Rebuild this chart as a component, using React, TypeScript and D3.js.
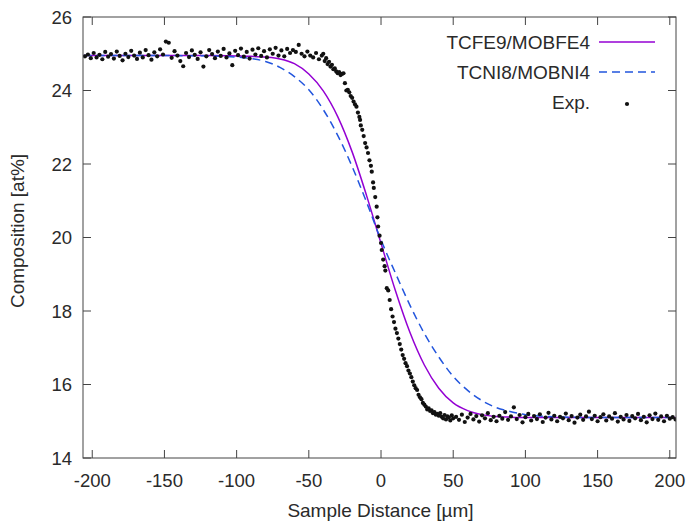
import React from "react";
import * as d3 from "d3";

const xTicks = [-200, -150, -100, -50, 0, 50, 100, 150, 200];
const yTicks = [14, 16, 18, 20, 22, 24, 26];

const seriesNames = ["TCFE9/MOBFE4", "TCNI8/MOBNI4", "Exp."];

// TCFE9/MOBFE4 (solid)
const tcfe9: [number, number][] = [
  [-206, 24.95], [-150, 24.95], [-120, 24.95], [-100, 24.94], [-90, 24.93], [-80, 24.91],
  [-70, 24.86], [-60, 24.73], [-50, 24.45], [-40, 23.99], [-30, 23.29], [-20, 22.33],
  [-10, 21.14], [0, 19.84], [10, 18.55], [20, 17.42], [30, 16.53], [40, 15.9], [50, 15.5],
  [60, 15.29], [70, 15.18], [80, 15.13], [90, 15.11], [100, 15.1], [150, 15.1], [204, 15.1],
];

// TCNI8/MOBNI4 (dashed)
const tcni8: [number, number][] = [
  [-206, 24.95], [-150, 24.95], [-120, 24.94], [-100, 24.91], [-90, 24.87], [-80, 24.79],
  [-70, 24.63], [-60, 24.38], [-50, 24.02], [-40, 23.48], [-30, 22.78], [-20, 21.93],
  [-10, 20.96], [0, 19.93], [10, 19.03], [20, 18.16], [30, 17.39], [40, 16.75], [50, 16.22],
  [60, 15.84], [70, 15.56], [80, 15.37], [90, 15.26], [100, 15.18], [110, 15.14], [120, 15.12],
  [150, 15.1], [204, 15.1],
];

// Experimental points
const expData: [number, number][] = [
  [-205, 24.93], [-203, 24.98], [-201, 24.88], [-199, 25.02], [-197, 24.9], [-195, 24.97],
  [-193, 24.85], [-191, 25.05], [-189, 24.92], [-187, 24.99], [-185, 24.87], [-183, 25.06],
  [-181, 24.94], [-179, 24.82], [-177, 25.0], [-175, 24.91], [-173, 25.08], [-171, 24.95],
  [-169, 24.86], [-167, 25.03], [-165, 24.9], [-163, 25.1], [-161, 24.96], [-159, 24.84],
  [-157, 25.04], [-155, 24.93], [-153, 25.12], [-151, 24.98], [-149, 25.33], [-147, 25.3],
  [-145, 24.89], [-143, 25.07], [-141, 24.95], [-139, 24.8], [-137, 24.66], [-135, 25.02],
  [-133, 24.91], [-131, 25.09], [-129, 24.97], [-127, 24.86], [-125, 25.04], [-123, 24.65],
  [-121, 24.93], [-119, 25.1], [-117, 24.99], [-115, 24.88], [-113, 25.06], [-111, 24.94],
  [-109, 25.13], [-107, 24.9], [-105, 25.01], [-103, 24.69], [-101, 25.08], [-99, 24.96],
  [-97, 25.14], [-95, 24.92], [-93, 25.05], [-91, 24.87], [-89, 25.11], [-87, 24.98],
  [-85, 25.15], [-83, 24.94], [-81, 25.07], [-79, 24.9], [-77, 25.12], [-75, 25.0],
  [-73, 25.16], [-71, 24.95], [-69, 25.09], [-67, 24.93], [-65, 25.13], [-63, 25.02],
  [-61, 25.1], [-59, 25.05], [-57, 25.24], [-55, 25.0], [-53, 24.93], [-51, 25.06],
  [-49, 24.95], [-47, 24.9], [-45, 25.02], [-43, 24.85], [-41, 24.95], [-40, 25.0],
  [-39, 24.8], [-38, 24.88], [-37, 24.72], [-36, 24.78], [-35, 24.65], [-34, 24.7],
  [-33, 24.58], [-32, 24.6], [-31, 24.52], [-30, 24.47], [-29, 24.5], [-28, 24.42],
  [-27, 24.45], [-26, 24.47], [-25, 24.2], [-24, 24.0], [-23, 24.02], [-22, 23.95],
  [-21, 23.85], [-20, 23.8], [-19, 23.7], [-18, 23.62], [-17, 23.56], [-16, 23.4],
  [-15, 23.28], [-14.5, 23.2], [-14, 23.05], [-13, 22.93], [-12, 22.76], [-11, 22.57],
  [-10, 22.45], [-9, 22.3], [-8, 22.1], [-7, 21.95], [-6.4, 21.79], [-5.5, 21.5],
  [-5, 21.35], [-4, 21.1], [-3, 20.84], [-2.5, 20.55], [-2, 20.3], [-1, 20.05],
  [0, 19.85], [0.5, 19.66], [1.5, 19.4], [2.5, 19.22], [3, 19.1], [4, 18.62],
  [5, 18.56], [6, 18.3], [7, 18.05], [8, 17.85], [9, 17.7], [10, 17.52],
  [11, 17.4], [12, 17.25], [13, 17.1], [14, 16.95], [15, 16.8], [16, 16.7],
  [17, 16.58], [18, 16.5], [19, 16.38], [20, 16.3], [21, 16.2], [22, 16.08],
  [23, 15.98], [24, 15.9], [25, 15.85], [26, 15.72], [27, 15.65], [28, 15.6],
  [29, 15.5], [30, 15.45], [31, 15.4], [32, 15.32], [33, 15.35], [34, 15.28],
  [35, 15.3], [36, 15.22], [37, 15.25], [38, 15.18], [39, 15.2], [40, 15.15],
  [41, 15.22], [42, 15.12], [43, 15.08], [44, 15.17], [45, 15.05], [46, 15.13],
  [47, 15.1], [48, 15.02], [49, 15.16], [50, 15.08],
  [52, 15.12], [54, 15.04], [56, 15.18], [58, 14.98], [60, 15.1], [62, 15.2],
  [64, 15.05], [66, 15.14], [68, 14.99], [70, 15.16], [72, 15.08], [74, 15.22],
  [76, 15.03], [78, 15.12], [80, 15.0], [82, 15.15], [84, 15.07], [86, 15.25],
  [88, 15.04], [90, 15.13], [92, 15.38], [94, 15.06], [96, 15.17], [98, 14.97],
  [100, 15.11], [102, 15.2], [104, 15.02], [106, 15.14], [108, 15.06], [110, 15.19],
  [112, 14.98], [114, 15.1], [116, 15.23], [118, 15.05], [120, 15.15], [122, 15.0],
  [124, 15.12], [126, 15.08], [128, 15.21], [130, 15.03], [132, 15.14], [134, 14.96],
  [136, 15.1], [138, 15.18], [140, 15.04], [142, 15.13], [144, 15.26], [146, 15.06],
  [148, 15.15], [150, 15.0], [152, 15.11], [154, 15.19], [156, 15.02], [158, 15.13],
  [160, 15.07], [162, 15.22], [164, 14.99], [166, 15.12], [168, 15.05], [170, 15.17],
  [172, 15.01], [174, 15.14], [176, 15.08], [178, 15.2], [180, 15.03], [182, 15.12],
  [184, 14.97], [186, 15.16], [188, 15.06], [190, 15.21], [192, 15.04], [194, 15.13],
  [196, 15.0], [198, 15.15], [200, 15.07], [202, 15.11], [204, 15.05],
];

const W = 693;
const H = 527;
const L = 83, R = 676, T = 17, B = 458;
const purple = "#9400d3";
const blue = "#2255dd";
const textCol = "#2a2a2a";
const font = "Liberation Sans, Arial, Helvetica, sans-serif";

export default function App() {
  const x = d3.scaleLinear().domain([-206.4, 204.3]).range([L, R]);
  const y = d3.scaleLinear().domain([14, 26]).range([B, T]);
  const line = d3
    .line<[number, number]>()
    .x((d) => x(d[0]))
    .y((d) => y(d[1]))
    .curve(d3.curveMonotoneX);
  const tl = 8;
  return (
    <svg width={W} height={H} style={{ position: "absolute", left: 0, top: 0, background: "#fff" }}
      fontFamily={font}>
      <defs>
        <clipPath id="plot">
          <rect x={L} y={T} width={R - L} height={B - T} />
        </clipPath>
      </defs>
      <rect x={0} y={0} width={W} height={H} fill="#fff" />
      {xTicks.map((t) => (
        <g key={"x" + t}>
          <line x1={x(t)} x2={x(t)} y1={B} y2={B - tl} stroke="#444" />
          <line x1={x(t)} x2={x(t)} y1={T} y2={T + tl} stroke="#444" />
          <text x={x(t)} y={487} textAnchor="middle" fontSize={18.5} fill={textCol}>{t}</text>
        </g>
      ))}
      {yTicks.map((t) => (
        <g key={"y" + t}>
          <line x1={L} x2={L + tl} y1={y(t)} y2={y(t)} stroke="#444" />
          <line x1={R} x2={R - tl} y1={y(t)} y2={y(t)} stroke="#444" />
          <text x={72} y={y(t) + 6.5} textAnchor="end" fontSize={18.5} fill={textCol}>{t}</text>
        </g>
      ))}
      <g clipPath="url(#plot)">
        <path d={line(tcfe9) || ""} fill="none" stroke={purple} strokeWidth={1.5} />
        <path d={line(tcni8) || ""} fill="none" stroke={blue} strokeWidth={1.5} strokeDasharray="8,5" />
        {expData.map((d, i) => (
          <circle key={i} cx={x(d[0])} cy={y(d[1])} r={2.1} fill="#111" />
        ))}
      </g>
      <rect x={L} y={T} width={R - L} height={B - T} fill="none" stroke="#444" strokeWidth={1} />
      <text x={590} y={49} textAnchor="end" fontSize={19} fill={textCol}>{seriesNames[0]}</text>
      <line x1={599} x2={655} y1={42} y2={42} stroke={purple} strokeWidth={1.5} />
      <text x={590} y={79} textAnchor="end" fontSize={19} fill={textCol}>{seriesNames[1]}</text>
      <line x1={599} x2={655} y1={72} y2={72} stroke={blue} strokeWidth={1.5} strokeDasharray="8,5" />
      <text x={590} y={109} textAnchor="end" fontSize={19} fill={textCol}>{seriesNames[2]}</text>
      <circle cx={627} cy={104} r={2.1} fill="#111" />
      <text x={380.5} y={517} textAnchor="middle" fontSize={19} fill={textCol}>Sample Distance [µm]</text>
      <text transform="translate(24,231) rotate(-90)" textAnchor="middle" fontSize={19} fill={textCol}>
        Composition [at%]
      </text>
    </svg>
  );
}
